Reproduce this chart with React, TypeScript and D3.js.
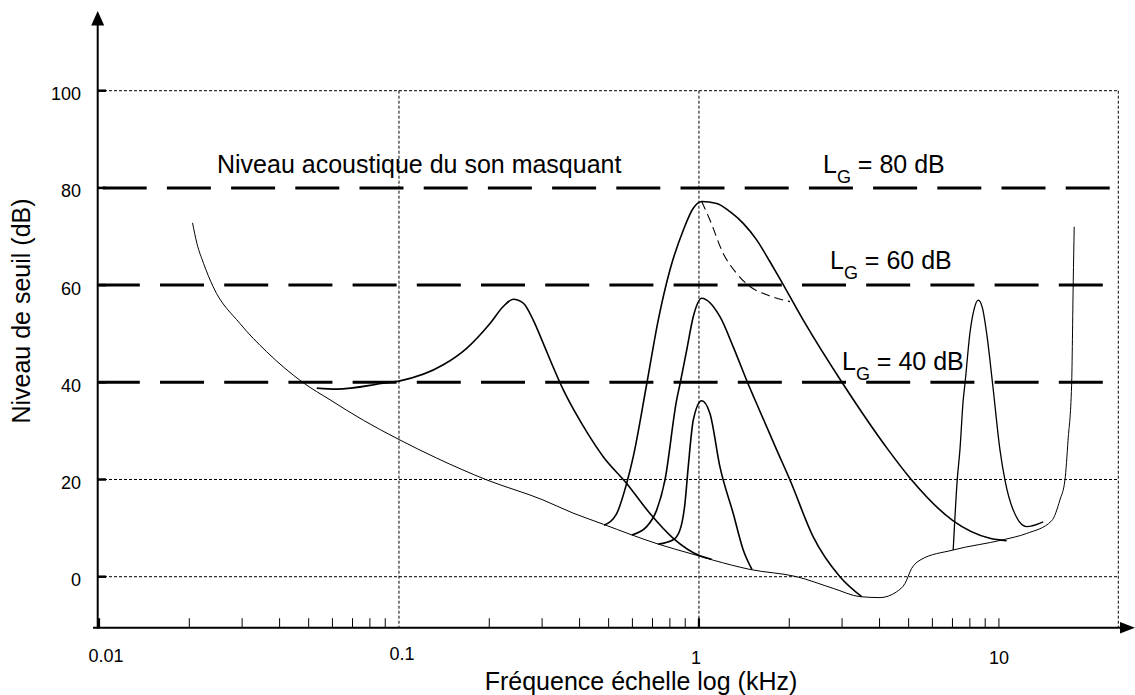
import React from "react";
import * as d3 from "d3";

type Pt = [number, number];

// Frequencies in kHz, levels in dB
const thresholdQuiet: Pt[] = [
  [0.0205, 72.8], [0.0212, 68.6], [0.0223, 64.5], [0.024, 59.7], [0.0295, 52.1],
  [0.0362, 46.3], [0.048, 39.9], [0.0589, 36.4], [0.076, 32.2], [0.0995, 28.3],
  [0.1336, 24.4], [0.1965, 19.9], [0.302, 15.8], [0.38, 13.1], [0.48, 10.8],
  [0.597, 8.6], [0.732, 6.7], [0.933, 4.8], [1.116, 3.4], [1.479, 1.5],
  [2.117, 0], [2.803, -2.4], [3.441, -4.1], [4.012, -4.3], [4.56, -3.1],
  [4.862, -1.4], [5.117, 1.7], [5.454, 3.4], [7.04, 5.5], [10.33, 7.6],
  [12.37, 8.9], [14.99, 11.5], [15.97, 15.8], [16.6, 19.9], [17.0, 28.1],
  [17.47, 39.4], [17.69, 60.7], [17.82, 72.0],
];

const masker250Hz: Pt[] = [
  [0.0532, 38.8], [0.062, 38.6], [0.0887, 39.8], [0.1008, 40.3], [0.1405, 43.6],
  [0.1681, 47.0], [0.2011, 52.1], [0.2227, 55.6], [0.2404, 57.1], [0.2596, 56.3],
  [0.2803, 52.8], [0.3027, 48.0], [0.3268, 43.1], [0.3521, 38.6], [0.3861, 33.9],
  [0.4266, 29.4], [0.4797, 24.7], [0.5741, 19.2], [0.6867, 13.0], [0.821, 7.9],
  [1.008, 4.3], [1.102, 3.6],
];

const masker1k80: Pt[] = [
  [0.4825, 10.6], [0.5318, 13.0], [0.5741, 19.2], [0.604, 24.7], [0.6695, 39.6],
  [0.7316, 52.8], [0.8003, 63.1], [0.8866, 71.3], [0.9572, 75.8], [1.021, 77.2],
  [1.146, 76.8], [1.269, 75.1], [1.405, 72.7], [1.557, 69.3], [1.725, 64.8],
  [1.862, 61.3], [2.227, 52.8], [3.027, 39.6], [4.276, 26.1], [5.117, 19.9],
  [7.04, 11.5], [9.33, 7.9], [10.61, 7.4],
];

const masker1k80Alt: Pt[] = [
  [1.021, 77.2], [1.088, 73.4], [1.205, 66.5], [1.336, 62.4], [1.479, 59.7],
  [1.682, 58.0], [2.011, 56.6],
];

const masker1k60: Pt[] = [
  [0.5967, 8.6], [0.6695, 10.3], [0.7228, 13.7], [0.7703, 19.9], [0.8427, 36.4],
  [0.8643, 39.6], [0.91, 46.6], [0.9572, 53.5], [1.021, 57.3], [1.175, 53.5],
  [1.301, 47.3], [1.46, 39.6], [1.537, 36.4], [1.816, 26.1], [2.011, 19.9],
  [2.404, 8.2], [2.951, 0], [3.487, -4.1],
];

const masker1k40: Pt[] = [
  [0.7316, 6.7], [0.821, 7.6], [0.8643, 9.6], [0.8982, 15.1], [0.921, 22.6],
  [0.9572, 32.2], [1.021, 36.2], [1.088, 33.6], [1.175, 22.6], [1.301, 13.0],
  [1.405, 5.5], [1.502, 1.5],
];

const masker8k: Pt[] = [
  [7.04, 5.5], [7.261, 19.9], [7.413, 26.1], [7.603, 36.4], [7.703, 39.6],
  [8.003, 50.1], [8.254, 54.9], [8.531, 56.9], [8.81, 55.3], [9.1, 50.1],
  [9.53, 39.6], [10.08, 26.1], [10.47, 19.9], [11.16, 13.7], [12.37, 10.3],
  [14.05, 11.3],
];

const maskerLevels = [80, 60, 40];
const maskerLevelLabels = ["80", "60", "40"];

const yTickValues = [0, 20, 40, 60, 80, 100];
const yLabelValues = [0, 20, 40, 60, 80, 100];
const hGridValues = [0, 20, 100];
const vGridValues = [0.1, 1, 25];

const xLabelValues = [0.01, 0.1, 1, 10];
const xLabelTexts = ["0.01", "0.1", "1", "10"];
const minorTickValues = [
  0.02, 0.03, 0.04, 0.05, 0.06, 0.07, 0.08, 0.09,
  0.2, 0.3, 0.4, 0.5, 0.6, 0.7, 0.8, 0.9,
  2, 3, 4, 5, 6, 7, 8, 9, 10,
];
const majorTickValues = [0.01, 1];

const FONT = "'Liberation Sans', Arial, Helvetica, sans-serif";

export default function App() {
  const width = 1135;
  const height = 695;

  const x = d3.scaleLog().domain([0.01, 25]).range([99, 1118.3]);
  const y = d3.scaleLinear().domain([0, 100]).range([576.7, 90.7]);
  const axisY = y(-10.5);
  const axisX = 97.7;

  const line = d3
    .line<Pt>()
    .x((d) => x(d[0]))
    .y((d) => y(d[1]))
    .curve(d3.curveMonotoneX);

  // per-label nudges of the frequency tick labels
  const xLabelDx = [7, 3, -3, 0];
  const xLabelDy = [662, 660, 664, 664];
  // dash phase of each masker level line
  const levelDashOffset = [-3.7, 3.2, 3.2];
  // label anchors for the masker levels
  const levelLabelX = [823, 830, 842];
  const levelLabelY = [173, 269, 370];

  const grid = "#000";

  return (
    <svg
      width={width}
      height={height}
      style={{ position: "absolute", left: 0, top: 0, background: "#fff" }}
      fontFamily={FONT}
    >
      <rect x={0} y={0} width={width} height={height} fill="#fff" />

      {/* dotted grid */}
      {hGridValues.map((v) => (
        <line
          key={"h" + v}
          x1={x(0.01)}
          x2={x(25)}
          y1={y(v)}
          y2={y(v)}
          stroke={grid}
          strokeWidth={1}
          strokeDasharray="3,2"
        />
      ))}
      {vGridValues.map((v) => (
        <line
          key={"v" + v}
          x1={x(v)}
          x2={x(v)}
          y1={y(100)}
          y2={axisY}
          stroke={grid}
          strokeWidth={1}
          strokeDasharray="3,2"
        />
      ))}

      {/* masker level lines */}
      {maskerLevels.map((v, i) => (
        <line
          key={"lvl" + v}
          x1={x(0.01)}
          x2={x(23.5)}
          y1={y(v)}
          y2={y(v)}
          stroke="#000"
          strokeWidth={3}
          strokeDasharray="44,20.2"
          strokeDashoffset={levelDashOffset[i]}
        />
      ))}

      {/* curves */}
      <path d={line(thresholdQuiet) || ""} fill="none" stroke="#000" strokeWidth={1} />
      <path d={line(masker250Hz) || ""} fill="none" stroke="#000" strokeWidth={1.6} />
      <path d={line(masker1k80) || ""} fill="none" stroke="#000" strokeWidth={1.6} />
      <path
        d={line(masker1k80Alt) || ""}
        fill="none"
        stroke="#000"
        strokeWidth={1.1}
        strokeDasharray="9,5"
      />
      <path d={line(masker1k60) || ""} fill="none" stroke="#000" strokeWidth={1.6} />
      <path d={line(masker1k40) || ""} fill="none" stroke="#000" strokeWidth={1.6} />
      <path d={line(masker8k) || ""} fill="none" stroke="#000" strokeWidth={1.3} />

      {/* axes */}
      <line x1={axisX} x2={axisX} y1={axisY + 1} y2={24} stroke="#000" strokeWidth={2} />
      <polygon
        points={`${axisX},11 ${axisX - 6.5},25.5 ${axisX + 6.5},25.5`}
        fill="#000"
      />
      <line x1={93} x2={1122} y1={axisY} y2={axisY} stroke="#000" strokeWidth={2} />
      <polygon
        points={`1135,${axisY} 1120,${axisY - 5.8} 1120,${axisY + 5.8}`}
        fill="#000"
      />

      {/* y ticks */}
      {yTickValues.map((v) => (
        <line
          key={"yt" + v}
          x1={axisX}
          x2={106}
          y1={y(v)}
          y2={y(v)}
          stroke="#000"
          strokeWidth={2.5}
        />
      ))}
      {yLabelValues.map((v) => (
        <text
          key={"yl" + v}
          x={81}
          y={y(v) + 9.5}
          fontSize={18}
          textAnchor="end"
          fill="#000"
        >
          {v}
        </text>
      ))}

      {/* x ticks */}
      {minorTickValues.map((v) => (
        <line
          key={"xt" + v}
          x1={x(v)}
          x2={x(v)}
          y1={axisY}
          y2={axisY - 9.5}
          stroke="#000"
          strokeWidth={1}
        />
      ))}
      {majorTickValues.map((v) => (
        <line
          key={"xT" + v}
          x1={x(v)}
          x2={x(v)}
          y1={axisY}
          y2={axisY - 9.5}
          stroke="#000"
          strokeWidth={2.2}
        />
      ))}
      {xLabelValues.map((v, i) => (
        <text
          key={"xl" + v}
          x={x(v) + xLabelDx[i]}
          y={xLabelDy[i]}
          fontSize={18}
          textAnchor="middle"
          fill="#000"
        >
          {xLabelTexts[i]}
        </text>
      ))}

      {/* axis titles */}
      <text
        transform="translate(30,311) rotate(-90)"
        fontSize={25}
        textAnchor="middle"
        fill="#000"
      >
        Niveau de seuil (dB)
      </text>
      <text x={641} y={690} fontSize={25} textAnchor="middle" fill="#000">
        Fréquence échelle log (kHz)
      </text>

      {/* annotations */}
      <text x={217} y={172.7} fontSize={25} fill="#000">
        Niveau acoustique du son masquant
      </text>
      {maskerLevels.map((v, i) => (
        <text key={"lt" + v} x={levelLabelX[i]} y={levelLabelY[i]} fontSize={25} fill="#000">
          L
          <tspan fontSize={18} dy={10}>
            G
          </tspan>
          <tspan dy={-10}>{` = ${maskerLevelLabels[i]} dB`}</tspan>
        </text>
      ))}
    </svg>
  );
}
